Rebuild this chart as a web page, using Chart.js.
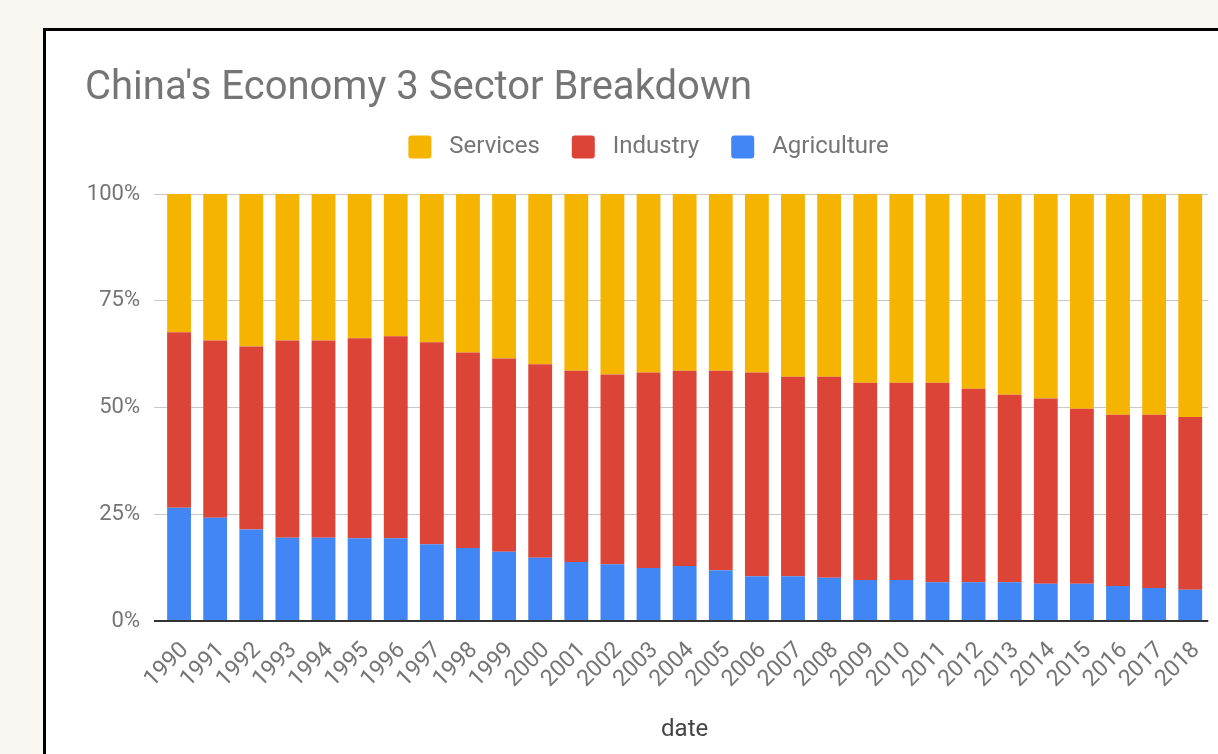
<!DOCTYPE html>
<html>
<head>
<meta charset="utf-8">
<script src="https://cdn.jsdelivr.net/npm/chart.js@4.4.1/dist/chart.umd.min.js"></script>
<style>
  html, body {
    margin: 0;
    padding: 0;
    width: 1218px;
    height: 754px;
    overflow: hidden;
    background: #faf7f2;
  }
  .card {
    position: absolute;
    left: 43px;
    top: 28px;
    width: 1240px;
    height: 800px;
    background: #ffffff;
    border: 3px solid #000000;
  }
  .chart-box {
    position: absolute;
    left: 0;
    top: 0;
    width: 1180px;
    height: 723px;
  }
</style>
</head>
<body>
<div class="card">
  <div class="chart-box"><canvas id="sectorChart"></canvas></div>
</div>
<script>
// Years on the x axis
const years = [
  "1990", "1991", "1992", "1993", "1994", "1995", "1996", "1997", "1998", "1999",
  "2000", "2001", "2002", "2003", "2004", "2005", "2006", "2007", "2008", "2009",
  "2010", "2011", "2012", "2013", "2014", "2015", "2016", "2017", "2018",
];

// Share of GDP per sector, in percent
const agriculture = [
  26.5, 24.2, 21.4, 19.5, 19.5, 19.4, 19.4, 18.0, 17.1, 16.2,
  14.8, 13.8, 13.3, 12.4, 12.9, 11.9, 10.5, 10.5, 10.1, 9.6,
  9.6, 9.1, 9.1, 9.1, 8.7, 8.7, 8.2, 7.7, 7.3,
];
const industry = [
  41.1, 41.5, 42.9, 46.2, 46.2, 46.8, 47.3, 47.3, 45.8, 45.3,
  45.3, 44.8, 44.4, 45.8, 45.7, 46.7, 47.7, 46.7, 47.1, 46.2,
  46.2, 46.7, 45.3, 43.9, 43.4, 41.0, 40.1, 40.6, 40.5,
];
const services = [
  32.4, 34.3, 35.7, 34.3, 34.3, 33.8, 33.3, 34.7, 37.1, 38.5,
  39.9, 41.4, 42.3, 41.8, 41.4, 41.4, 41.8, 42.8, 42.8, 44.2,
  44.2, 44.2, 45.6, 47.0, 47.9, 50.3, 51.7, 51.7, 52.2,
];

// Y axis ticks
const percentTicks = [0, 25, 50, 75, 100];

const textGrey = "#757575";
const fontFamily = "Roboto, 'Noto Sans', sans-serif";

// Leaves a bit more room between the legend and the plot
const legendSpacer = {
  id: "legendSpacer",
  beforeLayout: (chart) => {
    const legend = chart.legend;
    if (!legend || legend._spaced) return;
    const baseFit = Object.getPrototypeOf(legend).fit;
    legend.fit = function () {
      baseFit.call(this);
      this.height += 25;
    };
    legend._spaced = true;
  },
};

const ctx = document.getElementById("sectorChart").getContext("2d");

new Chart(ctx, {
  type: "bar",
  data: {
    labels: years,
    datasets: [
      { label: "Agriculture", data: agriculture, backgroundColor: "#4285f4" },
      { label: "Industry", data: industry, backgroundColor: "#db4437" },
      { label: "Services", data: services, backgroundColor: "#f4b400" },
    ],
  },
  plugins: [legendSpacer],
  options: {
    responsive: true,
    maintainAspectRatio: false,
    animation: false,
    datasets: {
      bar: { categoryPercentage: 1, barPercentage: 0.66, borderWidth: 0 },
    },
    layout: { padding: { top: 4, left: 39, right: 14, bottom: 10 } },
    plugins: {
      title: {
        display: true,
        text: "China's Economy 3 Sector Breakdown",
        align: "start",
        color: textGrey,
        font: { family: fontFamily, size: 40, weight: "normal", lineHeight: 1.2 },
        padding: { top: 30, bottom: -10 },
      },
      legend: {
        reverse: true,
        labels: {
          color: textGrey,
          font: { family: fontFamily, size: 24 },
          boxWidth: 23,
          boxHeight: 23,
          padding: 32,
          generateLabels: (chart) =>
            Chart.defaults.plugins.legend.labels
              .generateLabels(chart)
              .map((item) => ({ ...item, text: " " + item.text, borderRadius: 3, lineWidth: 0 })),
        },
      },
      tooltip: { enabled: false },
    },
    scales: {
      x: {
        stacked: true,
        grid: { display: false, drawTicks: false },
        border: { display: false },
        ticks: {
          color: textGrey,
          font: { family: fontFamily, size: 23 },
          minRotation: 45,
          maxRotation: 45,
          autoSkip: false,
          padding: 16,
          labelOffset: 6,
        },
        title: {
          display: true,
          text: "date",
          color: "#444444",
          font: { family: fontFamily, size: 24 },
          padding: { top: 4, bottom: 0 },
        },
        afterFit: (scale) => {
          scale.height = 123;
        },
      },
      y: {
        stacked: true,
        min: 0,
        max: 100,
        border: { display: false },
        grid: {
          color: (c) => (c.tick && c.tick.value === 0 ? "#333333" : "#c8c8c8"),
          lineWidth: (c) => (c.tick && c.tick.value === 0 ? 2 : 1),
          drawTicks: true,
          tickLength: 7,
        },
        afterBuildTicks: (scale) => {
          scale.ticks = percentTicks.map((v) => ({ value: v }));
        },
        ticks: {
          color: textGrey,
          font: { family: fontFamily, size: 22 },
          padding: 14,
          callback: (value) => value + "%",
        },
        afterFit: (scale) => {
          scale.width = 76;
        },
      },
    },
  },
});
</script>
</body>
</html>
